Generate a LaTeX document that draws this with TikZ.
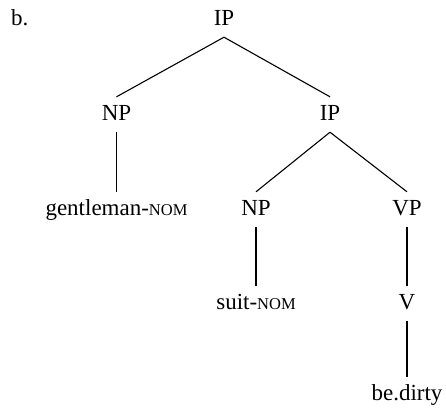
\documentclass[tikz,border=0pt]{standalone}
\usepackage{fontspec}
\setmainfont{Liberation Serif}
\newcommand{\nomsc}{{\fontsize{16.5pt}{18pt}\selectfont NOM}}
\tikzset{
  cat/.style={anchor=base, inner sep=0pt, text height=23pt, text depth=12pt,
              font=\fontsize{23pt}{26pt}\selectfont},
  edge/.style={line width=1.1pt, black}
}
\begin{document}
\begin{tikzpicture}[x=1pt,y=-1pt]
\useasboundingbox (0,0) rectangle (446,408);
\node[cat, anchor=base west, text height=0pt, text depth=0pt] (lbl) at (11,25) {b.};
\node[cat] (ip1) at (224,25) {IP};
\node[cat] (np1) at (116.5,120) {NP};
\node[cat] (ip2) at (330,120) {IP};
\node[cat] (gent) at (116.5,215) {gentleman-\nomsc};
\node[cat] (np2) at (256,215) {NP};
\node[cat] (vp) at (407,215) {VP};
\node[cat] (suit) at (256,309) {suit-\nomsc};
\node[cat] (v) at (407,309) {V};
\node[cat] (bed) at (407,400) {be.dirty};
\draw[edge] (ip1.south) -- (np1.north);
\draw[edge] (ip1.south) -- (ip2.north);
\draw[edge] (np1.south) -- (np1.south |- gent.north);
\draw[edge] (ip2.south) -- (np2.north);
\draw[edge] (ip2.south) -- (vp.north);
\draw[edge] (np2.south) -- (suit.north);
\draw[edge] (vp.south) -- (v.north);
\draw[edge] (v.south) -- (bed.north);
\end{tikzpicture}
\end{document}
